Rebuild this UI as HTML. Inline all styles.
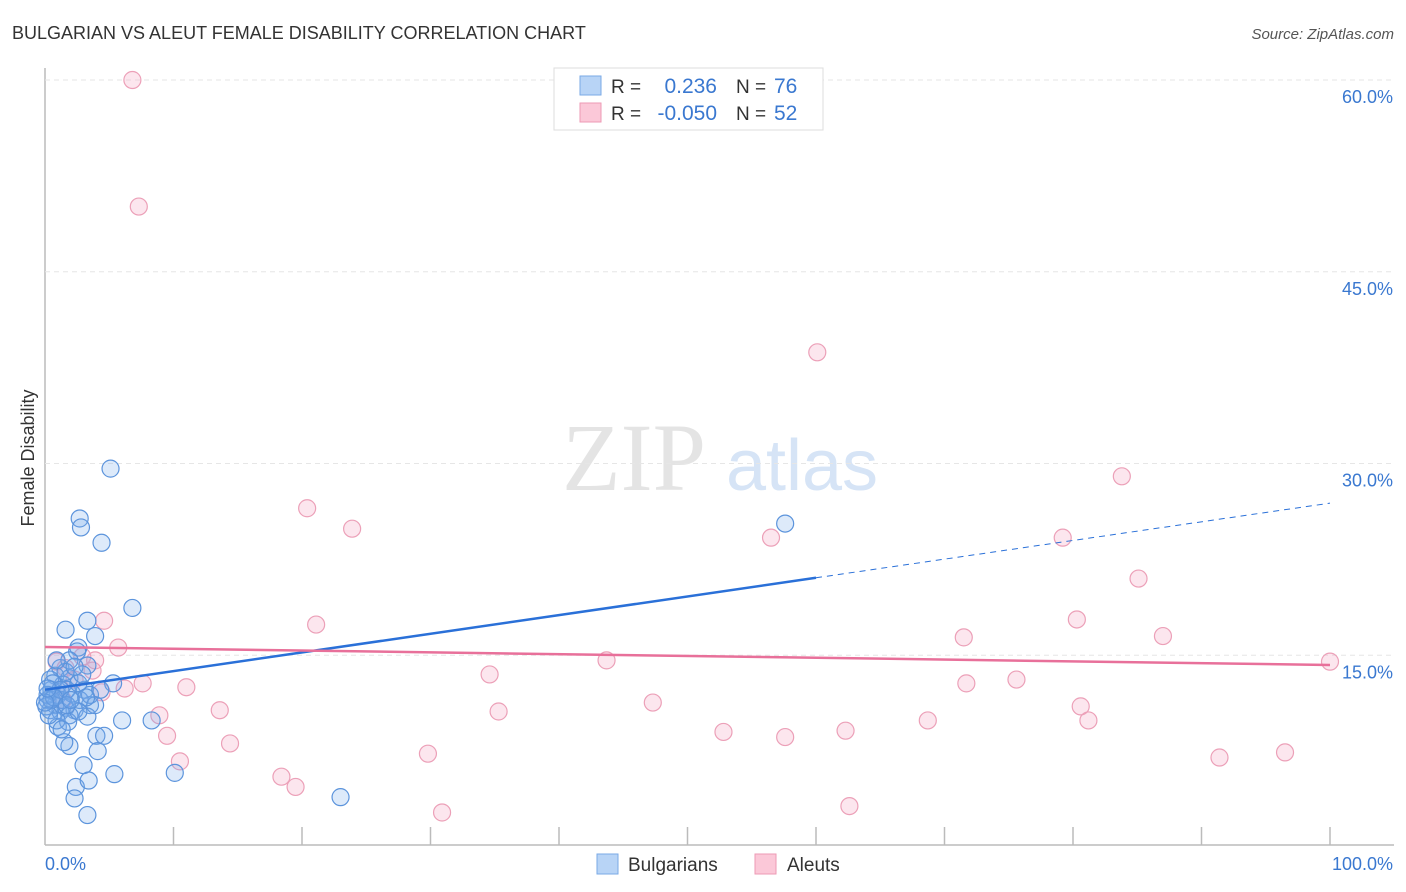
<!DOCTYPE html>
<html><head><meta charset="utf-8"><style>
body{margin:0;background:#fff;font-family:"Liberation Sans",sans-serif;}
svg{display:block}
</style></head><body>
<svg id="c" width="1406" height="892" xmlns="http://www.w3.org/2000/svg">
<text x="12" y="39" font-size="18" fill="#333">BULGARIAN VS ALEUT FEMALE DISABILITY CORRELATION CHART</text>
<text x="1394" y="39" font-size="15" fill="#555" font-style="italic" text-anchor="end">Source: ZipAtlas.com</text>
<text x="634" y="490" font-size="96" fill="#e4e4e4" font-family="Liberation Serif" text-anchor="middle">ZIP</text>
<text x="802" y="490" font-size="72" fill="#d6e4f6" text-anchor="middle">atlas</text>
<text transform="translate(34,458) rotate(-90)" font-size="18" fill="#333" text-anchor="middle">Female Disability</text>
<g id="grid"></g><g id="pts"></g><g id="lines"></g>
<g>
<rect x="554" y="68" width="269" height="62" fill="#fff" stroke="#ddd"/>
<rect x="580" y="76" width="21" height="19" fill="#b8d4f6" stroke="#7aaae6"/>
<rect x="580" y="103" width="21" height="19" fill="#fbc8d8" stroke="#ee9ab4"/>
<text x="611" y="93" font-size="19" fill="#333">R =</text>
<text x="717" y="93" font-size="21" fill="#3a78d0" text-anchor="end">0.236</text>
<text x="736" y="93" font-size="19" fill="#333">N =</text>
<text x="774" y="93" font-size="21" fill="#3a78d0">76</text>
<text x="611" y="120" font-size="19" fill="#333">R =</text>
<text x="717" y="120" font-size="21" fill="#3a78d0" text-anchor="end">-0.050</text>
<text x="736" y="120" font-size="19" fill="#333">N =</text>
<text x="774" y="120" font-size="21" fill="#3a78d0">52</text>
</g>
<g>
<rect x="597" y="854" width="21" height="20" fill="#b8d4f6" stroke="#7aaae6"/>
<text x="628" y="871" font-size="19" fill="#333">Bulgarians</text>
<rect x="755" y="854" width="21" height="20" fill="#fbc8d8" stroke="#ee9ab4"/>
<text x="787" y="871" font-size="19" fill="#333">Aleuts</text>
</g>
<text x="45" y="870" font-size="18" fill="#3a78d0">0.0%</text>
<text x="1393" y="870" font-size="18" fill="#3a78d0" text-anchor="end">100.0%</text>
</svg>
<script>
const yTicks=[15,30,45,60];
const yTickLabels=["15.0%","30.0%","45.0%","60.0%"];
const blueX=[5.1,2.7,2.8,4.4,6.8,3.3,1.6,3.9,2.6,2.5,3.3,1.2,5.3,0.8,1.9,1.4,3.1,0.5,1.0,0.2,0.8,1.6,2.3,3.5,0.4,1.2,1.9,3.3,6.0,8.3,1.0,1.8,4.0,4.6,1.9,1.5,4.1,3.0,5.4,10.1,2.4,3.4,2.3,3.3,23.0,57.6,0.4,0.6,0.2,1.3,2.1,2.7,1.7,0.9,3.5,0.1,0.5,0.3,1.3,2.6,2.9,1.9,1.6,2.3,0.9,3.9,4.3,1.2,0.7,0,0.2,3.2,2.6,1.7,2.0];
const blueY=[29.6,25.7,25.0,23.8,18.7,17.7,17.0,16.5,15.6,15.3,14.2,14.0,12.8,13.4,13.2,12.7,12.3,12.3,11.9,11.5,11.1,10.9,10.7,11.1,10.7,10.6,10.3,10.2,9.9,9.9,9.4,9.8,8.7,8.7,7.9,8.2,7.5,6.4,5.7,5.8,4.7,5.2,3.8,2.5,3.9,25.3,13.1,12.8,11.9,11.5,12.0,11.5,12.3,9.9,11.9,11.0,11.5,10.3,9.2,12.8,13.5,14.6,13.7,14.1,14.6,11.1,12.3,12.3,11.7,11.3,12.4,11.7,10.6,11.1,11.5];
const pinkX=[6.8,7.3,60.1,83.8,20.4,23.9,56.5,79.2,85.1,4.6,21.1,80.3,5.7,71.5,87.0,100,43.7,34.6,75.6,71.7,7.6,11.0,6.2,4.4,47.3,13.6,8.9,35.3,80.6,81.2,68.7,52.8,62.3,57.6,9.5,14.4,10.5,29.8,91.4,96.5,18.4,19.5,30.9,62.6,0.9,1.6,3.7,2.3,1.2,2.9,3.9,1.4];
const pinkY=[60.0,50.1,38.7,29.0,26.5,24.9,24.2,24.2,21.0,17.7,17.4,17.8,15.6,16.4,16.5,14.5,14.6,13.5,13.1,12.8,12.8,12.5,12.4,12.1,11.3,10.7,10.3,10.6,11.0,9.9,9.9,9.0,9.1,8.6,8.7,8.1,6.7,7.3,7.0,7.4,5.5,4.7,2.7,3.2,14.5,14.0,13.8,13.1,12.3,14.9,14.6,11.5];
const blueTrend=[12.3,26.9];
const pinkTrend=[15.65,14.24];
const NS="http://www.w3.org/2000/svg";
const sx=v=>45+v*12.85;
const sy=v=>847-v*12.783;
function mk(tag,attrs,parent){const e=document.createElementNS(NS,tag);for(const k in attrs)e.setAttribute(k,attrs[k]);parent.appendChild(e);return e;}
const grid=document.getElementById('grid');
let ax=mk('line',{x1:45,y1:68,x2:45,y2:845,stroke:'#bbb','stroke-width':1.5},grid);


let bx=mk('line',{x1:45,y1:845,x2:1394,y2:845,stroke:'#bbb','stroke-width':1.5},grid);


for(let i=1;i<=10;i++){
  const t=mk('line',{x1:sx(i*10),y1:827,x2:sx(i*10),y2:845,stroke:'#bbb','stroke-width':1.5},grid);
  
  
}
yTicks.forEach((v,i)=>{
  const g=mk('line',{x1:45,y1:sy(v),x2:1394,y2:sy(v),stroke:'#e6e6e6','stroke-dasharray':'5,4'},grid);
  
  
  const t=mk('text',{x:1393,y:sy(v)+23,'font-size':18,fill:'#3a78d0','text-anchor':'end'},grid);
  t.textContent=yTickLabels[i];
  
  
});
const pts=document.getElementById('pts');
pinkX.forEach((x,i)=>{
  const c=mk('circle',{cx:sx(x),cy:sy(pinkY[i]),r:8.5,fill:'rgba(245,165,195,0.28)',stroke:'#eca0b8','stroke-width':1.2},pts);
  
  
});
blueX.forEach((x,i)=>{
  const c=mk('circle',{cx:sx(x),cy:sy(blueY[i]),r:8.5,fill:'rgba(120,170,235,0.25)',stroke:'#5c94dc','stroke-width':1.2},pts);
  
  
});
const lines=document.getElementById('lines');
const bAt=x=>blueTrend[0]+(blueTrend[1]-blueTrend[0])*x/100;
let l1=mk('line',{x1:sx(0),y1:sy(bAt(0)),x2:sx(60),y2:sy(bAt(60)),stroke:'#2a70d8','stroke-width':2.5},lines);


let l2=mk('line',{x1:sx(60),y1:sy(bAt(60)),x2:sx(100),y2:sy(bAt(100)),stroke:'#2a70d8','stroke-width':1,'stroke-dasharray':'6,5'},lines);


let l3=mk('line',{x1:sx(0),y1:sy(pinkTrend[0]),x2:sx(100),y2:sy(pinkTrend[1]),stroke:'#e8709a','stroke-width':2.5},lines);


</script>
</body></html>
